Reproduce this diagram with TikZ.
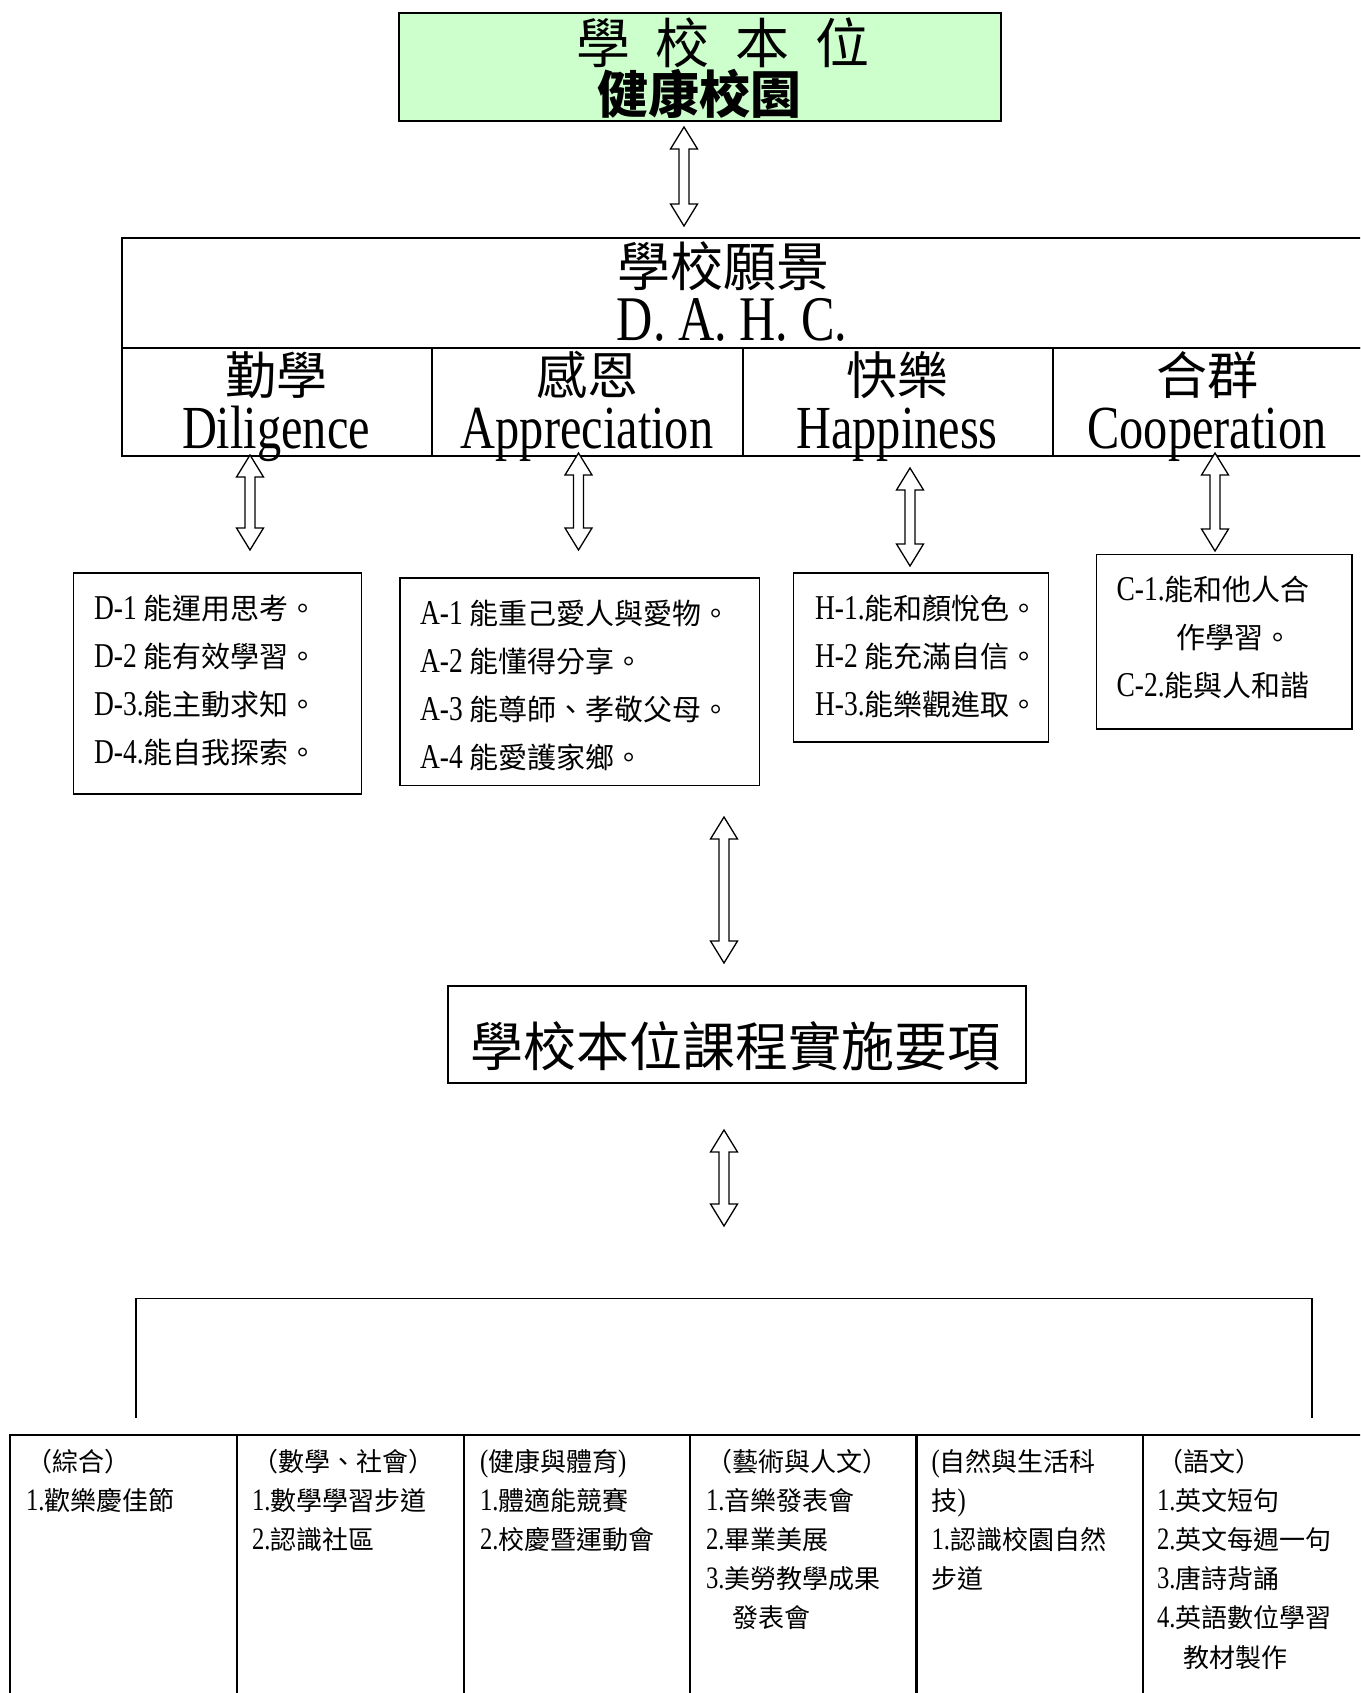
\documentclass[tikz,border=0pt]{standalone}
\usepackage{fontspec}
\setmainfont{Noto Sans CJK TC}
\newfontfamily\en[Scale=1.2,FakeStretch=0.79]{Liberation Serif}
\usetikzlibrary{calc}
\definecolor{boxgreen}{RGB}{204,255,204}
\newcommand\lat[1]{{\en #1}}
\newcommand\fs[1]{\fontsize{#1}{#1}\selectfont}
\def\hl{22pt}
\newcommand\dblarrow[2]{%
  \draw[dbl] let \p1=(#1), \p2=(#2) in
    (\x1,\y1) -- (\x1+13.5pt,\y1-\hl) -- (\x1+5pt,\y1-\hl) -- (\x1+5pt,\y2+\hl)
    -- (\x1+13.5pt,\y2+\hl) -- (\x1,\y2) -- (\x1-13.5pt,\y2+\hl) -- (\x1-5pt,\y2+\hl)
    -- (\x1-5pt,\y1-\hl) -- (\x1-13.5pt,\y1-\hl) -- cycle;}
\begin{document}
\begin{tikzpicture}[x=1pt,y=-1pt,
  box/.style={draw, line width=1.5pt, inner sep=0pt, outer sep=0pt, anchor=north west},
  cell/.style={draw, line width=2pt, inner sep=0pt, outer sep=0pt, anchor=north west},
  tcell/.style={draw, line width=2.2pt, inner sep=0pt, outer sep=0pt, anchor=north west, minimum height=315pt},
  dbl/.style={draw, fill=white, line width=1.3pt, line join=miter},
  tx/.style={inner sep=0pt, outer sep=0pt, anchor=base west},
  ctx/.style={inner sep=0pt, outer sep=0pt, anchor=base},
  zhlab/.style={ctx, font=\fs{51}, text depth=0pt, text height=44pt},
  enlab/.style={ctx, font=\fs{51}, text height=41pt, text depth=12pt}]
\useasboundingbox (0,0) rectangle (1360,1693);
\fill[white] (0,0) rectangle (1360,1693);
\clip (0,0) rectangle (1360,1693);

% top green box
\node[box, line width=2pt, fill=boxgreen, minimum width=602pt, minimum height=108pt] (top) at (399,13) {};
\node[ctx, font=\fs{54}, text depth=0pt] (top1) at (723,63.5) {學\hspace{26pt}校\hspace{26pt}本\hspace{26pt}位};
\node[ctx, font=\fs{51}\bfseries, text height=44pt] (top2) at (699,113.5) {健康校園};

% vision table
\node[cell, minimum width=1245pt, minimum height=109pt] (vis) at (122,238.5) {};
\node[ctx, font=\fs{53}, text depth=0pt] (vis1) at (723,287) {學校願景};
\node[ctx, font=\fs{53}, text height=42pt] (vis2) at (732,341) {\lat{D. A. H. C.}};
\node[cell, minimum width=310pt, minimum height=108pt] (cD) at (122,347.5) {};
\node[cell, minimum width=310.5pt, minimum height=108pt] (cA) at (432,347.5) {};
\node[cell, minimum width=310pt, minimum height=108pt] (cH) at (742.5,347.5) {};
\node[cell, minimum width=314.5pt, minimum height=108pt] (cC) at (1052.5,347.5) {};
\node[zhlab] (lD1) at (276,394) {勤學};
\node[zhlab] (lA1) at (587,394) {感恩};
\node[zhlab] (lH1) at (897,394) {快樂};
\node[zhlab] (lC1) at (1207,394) {合群};
\node[enlab] (lD2) at (276,448) {\lat{Diligence}};
\node[enlab] (lA2) at (587,448) {\lat{Appreciation}};
\node[enlab] (lH2) at (897,448) {\lat{Happiness}};
\node[enlab] (lC2) at (1207,448) {\lat{Cooperation}};

% goal boxes
\node[box, minimum width=288pt, minimum height=221pt] (bD) at (73.5,573) {};
\foreach \s [count=\i] in {{\lat{D-1} 能運用思考。},{\lat{D-2} 能有效學習。},{\lat{D-3.}能主動求知。},{\lat{D-4.}能自我探索。}}
  \node[tx, font=\fs{29}] (tD-\i) at (94,{619+48.3*(\i-1)}) {\s};
\node[box, minimum width=359.5pt, minimum height=207.5pt] (bA) at (400,578) {};
\foreach \s [count=\i] in {{\lat{A-1} 能重己愛人與愛物。},{\lat{A-2} 能懂得分享。},{\lat{A-3} 能尊師、孝敬父母。},{\lat{A-4} 能愛護家鄉。}}
  \node[tx, font=\fs{29}] (tA-\i) at (420,{624+48*(\i-1)}) {\s};
\node[box, minimum width=255pt, minimum height=169pt] (bH) at (793.5,573) {};
\foreach \s [count=\i] in {{\lat{H-1.}能和顏悅色。},{\lat{H-2} 能充滿自信。},{\lat{H-3.}能樂觀進取。}}
  \node[tx, font=\fs{29}] (tH-\i) at (815,{619+48*(\i-1)}) {\s};
\node[box, minimum width=255.5pt, minimum height=174.5pt] (bC) at (1096.5,554.5) {};
\node[tx, font=\fs{29}] (tC-1) at (1116.5,600) {\lat{C-1.}能和他人合};
\node[tx, font=\fs{29}] (tC-2) at (1176.5,648) {作學習。};
\node[tx, font=\fs{29}] (tC-3) at (1116.5,696.5) {\lat{C-2.}能與人和諧};

% implementation box
\node[box, minimum width=578pt, minimum height=97pt] (impl) at (448,986) {};
\node[ctx, font=\fs{53}] (impl1) at (735,1066) {學校本位課程實施要項};

% arrows
\coordinate (a0t) at (684,127);  \coordinate (a0b) at (684,226);
\coordinate (aDt) at (250,455);  \coordinate (aDb) at (250,550);
\coordinate (aAt) at (578.5,453); \coordinate (aAb) at (578.5,550);
\coordinate (aHt) at (910,468);  \coordinate (aHb) at (910,566);
\coordinate (aCt) at (1215,453); \coordinate (aCb) at (1215,551);
\coordinate (aMt) at (724,817);  \coordinate (aMb) at (724,963);
\coordinate (aLt) at (724,1130); \coordinate (aLb) at (724,1226);
\dblarrow{a0t}{a0b}
\dblarrow{aDt}{aDb}
\dblarrow{aAt}{aAb}
\dblarrow{aHt}{aHb}
\dblarrow{aCt}{aCb}
\dblarrow{aMt}{aMb}
\dblarrow{aLt}{aLb}

% bracket
\coordinate (brL) at (136,1417.5); \coordinate (brTL) at (136,1298.5);
\coordinate (brTR) at (1312,1298.5); \coordinate (brR) at (1312,1417.5);
\draw[line width=1.8pt] (brL) -- (brTL) -- (brTR) -- (brR);

% bottom table
\node[tcell, minimum width=227pt] (k1) at (10,1435) {};
\node[tcell, minimum width=227pt] (k2) at (237,1435) {};
\node[tcell, minimum width=226pt] (k3) at (464,1435) {};
\node[tcell, minimum width=226.5pt] (k4) at (690,1435) {};
\node[tcell, minimum width=226.5pt] (k5) at (916.5,1435) {};
\node[tcell, minimum width=227pt] (k6) at (1143,1435) {};
\foreach \s [count=\i] in {（綜合）,{\lat{1.}歡樂慶佳節}}
  \node[tx, font=\fs{26}] (c1-\i) at (26,{1471+39.2*(\i-1)}) {\s};
\foreach \s [count=\i] in {（數學、社會）,{\lat{1.}數學學習步道},{\lat{2.}認識社區}}
  \node[tx, font=\fs{26}] (c2-\i) at (252,{1471+39.2*(\i-1)}) {\s};
\foreach \s [count=\i] in {{\lat{(}健康與體育\lat{)}},{\lat{1.}體適能競賽},{\lat{2.}校慶暨運動會}}
  \node[tx, font=\fs{26}] (c3-\i) at (480,{1471+39.2*(\i-1)}) {\s};
\foreach \s [count=\i] in {（藝術與人文）,{\lat{1.}音樂發表會},{\lat{2.}畢業美展},{\lat{3.}美勞教學成果},{　發表會}}
  \node[tx, font=\fs{26}] (c4-\i) at (706,{1471+39.2*(\i-1)}) {\s};
\foreach \s [count=\i] in {{\lat{(}自然與生活科},{技\lat{)}},{\lat{1.}認識校園自然},{步道}}
  \node[tx, font=\fs{26}] (c5-\i) at (931.5,{1471+39.2*(\i-1)}) {\s};
\foreach \s [count=\i] in {（語文）,{\lat{1.}英文短句},{\lat{2.}英文每週一句},{\lat{3.}唐詩背誦},{\lat{4.}英語數位學習},{　教材製作}}
  \node[tx, font=\fs{26}] (c6-\i) at (1157,{1471+39.2*(\i-1)}) {\s};
\end{tikzpicture}
\end{document}
